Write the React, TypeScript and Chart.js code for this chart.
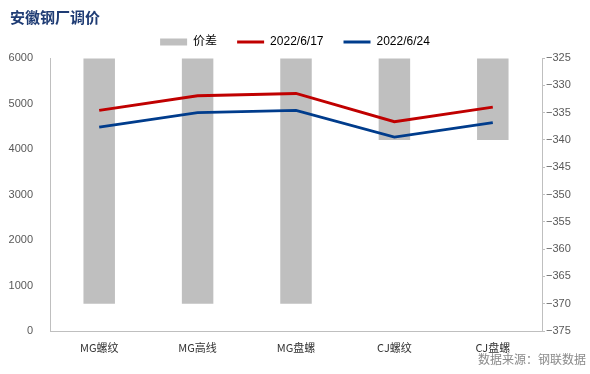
import React, { useEffect, useRef } from "react";
import { Chart, registerables } from "chart.js";

Chart.register(...registerables);

const categories = ["MG螺纹", "MG高线", "MG盘螺", "CJ螺纹", "CJ盘螺"];
const spread = [-370, -370, -370, -340, -340];
const price0617 = [4850, 5170, 5220, 4600, 4920];
const price0624 = [4480, 4800, 4850, 4260, 4580];
const seriesNames = ["价差", "2022/6/17", "2022/6/24"];
const titleText = "安徽钢厂调价";
const sourceText = "数据来源：钢联数据";

const textPlugin = {
  id: "textPlugin",
  afterDraw(chart: any) {
    const ctx = chart.ctx;
    ctx.save();
    ctx.font = "bold 15px 'Noto Sans CJK SC'";
    ctx.fillStyle = "#1f3c74";
    ctx.textBaseline = "middle";
    ctx.textAlign = "left";
    ctx.fillText(titleText, 10, 17);
    ctx.font = "12px 'Noto Sans CJK SC'";
    ctx.fillStyle = "#8a8a8a";
    ctx.textAlign = "right";
    ctx.fillText(sourceText, 586, 359);
    ctx.restore();
  },
};

export default function App() {
  const ref = useRef<HTMLCanvasElement>(null);
  useEffect(() => {
    document.body.style.margin = "0";
    const chart = new Chart(ref.current!, {
      type: "bar",
      data: {
        labels: categories,
        datasets: [
          {
            type: "bar",
            label: seriesNames[0],
            data: spread,
            yAxisID: "y1",
            backgroundColor: "#bfbfbf",
            base: -325,
            barPercentage: 0.32,
            categoryPercentage: 1,
            order: 2,
          } as any,
          {
            type: "line",
            label: seriesNames[1],
            data: price0617,
            yAxisID: "y",
            borderColor: "#c00000",
            backgroundColor: "#c00000",
            borderWidth: 2.8,
            pointRadius: 0,
            tension: 0,
            order: 1,
          },
          {
            type: "line",
            label: seriesNames[2],
            data: price0624,
            yAxisID: "y",
            borderColor: "#003c8c",
            backgroundColor: "#003c8c",
            borderWidth: 2.8,
            pointRadius: 0,
            tension: 0,
            order: 0,
          },
        ],
      },
      options: {
        animation: false,
        responsive: false,
        layout: { padding: { top: 16, left: 0, right: 0, bottom: 0 } },
        plugins: {
          tooltip: { enabled: false },
          legend: {
            position: "top",
            labels: {
              usePointStyle: true,
              pointStyleWidth: 27,
              boxHeight: 7,
              padding: 20,
              color: "#222",
              font: { size: 12, family: "'Liberation Sans', 'Noto Sans CJK SC'" },
              generateLabels: () => [
                { text: seriesNames[0], fillStyle: "#bfbfbf", strokeStyle: "#bfbfbf", lineWidth: 0, pointStyle: "rect", datasetIndex: 0, hidden: false },
                { text: seriesNames[1], fillStyle: "#c00000", strokeStyle: "#c00000", lineWidth: 3, pointStyle: "line", datasetIndex: 1, hidden: false },
                { text: seriesNames[2], fillStyle: "#003c8c", strokeStyle: "#003c8c", lineWidth: 3, pointStyle: "line", datasetIndex: 2, hidden: false },
              ] as any,
            },
          },
        },
        scales: {
          x: {
            grid: { display: false },
            border: { display: true, color: "#bfbfbf" },
            ticks: {
              color: "#333",
              font: { size: 11, family: "'Noto Sans CJK SC'" },
              padding: 2,
              maxRotation: 0,
            },
            afterFit: (s: any) => {
              s.height = 43;
            },
          },
          y: {
            position: "left",
            min: 0,
            max: 6000,
            ticks: {
              stepSize: 1000,
              color: "#595959",
              font: { size: 11, family: "'Liberation Sans'" },
              padding: 9,
              callback: (v: any) => String(v),
            },
            grid: { display: false },
            border: { display: true, color: "#bfbfbf" },
            afterFit: (s: any) => {
              s.width = 50;
            },
          },
          y1: {
            position: "right",
            min: -375,
            max: -325,
            ticks: {
              stepSize: 5,
              color: "#595959",
              font: { size: 11, family: "'Liberation Sans'" },
              padding: 1,
              callback: (v: any) => String(v).replace("-", "\u2212"),
            },
            grid: { display: true, drawOnChartArea: false, tickLength: 3, color: "#bfbfbf" },
            border: { display: true, color: "#bfbfbf" },
            afterFit: (s: any) => {
              s.width = 48;
            },
          },
        },
      },
      plugins: [textPlugin],
    });
    return () => chart.destroy();
  }, []);
  return (
    <div style={{ width: 590, height: 374 }}>
      <canvas ref={ref} width={590} height={374} style={{ display: "block" }} />
    </div>
  );
}
